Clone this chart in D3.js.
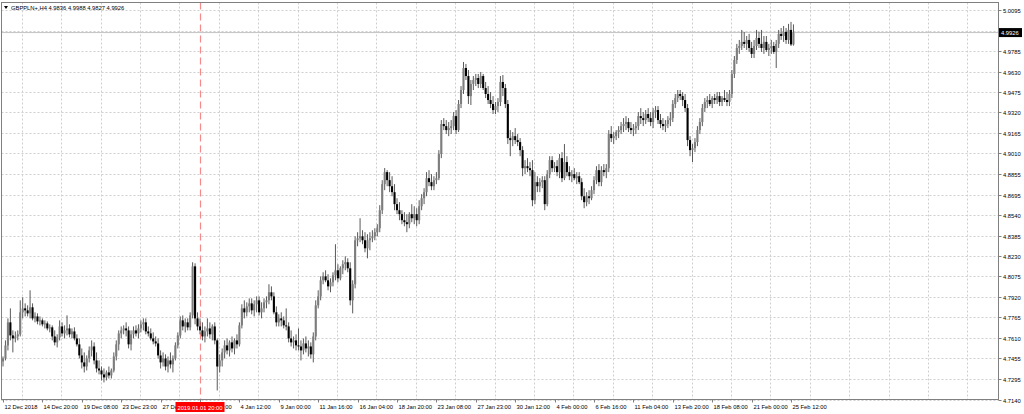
<!DOCTYPE html>
<html><head><meta charset="utf-8">
<script src="https://cdn.jsdelivr.net/npm/d3@7"></script>
<style>html,body{margin:0;padding:0;background:#fff;overflow:hidden}</style>
</head><body><svg id="c" width="1024" height="414"></svg>
<script>
const symbolTitle = "GBPPLN+,H4";
const lastOHLC = [4.9836, 4.9988, 4.9827, 4.9926];
const markerLabel = "2019.01.01 20:00";
const markerBar = 80;
const labelEvery = 16;
const gridEvery = 16;

const openP = [4.7430,4.7453,4.7552,4.7727,4.7628,4.7605,4.7620,4.7636,4.7803,4.7833,
4.7818,4.7795,4.7841,4.7757,4.7772,4.7734,4.7742,4.7712,4.7719,4.7681,
4.7689,4.7620,4.7575,4.7613,4.7696,4.7643,4.7666,4.7681,4.7636,4.7658,
4.7605,4.7560,4.7476,4.7423,4.7392,4.7453,4.7514,4.7544,4.7438,4.7377,
4.7362,4.7332,4.7309,4.7347,4.7324,4.7362,4.7468,4.7560,4.7643,4.7666,
4.7681,4.7666,4.7560,4.7636,4.7666,4.7643,4.7681,4.7712,4.7727,4.7658,
4.7643,4.7605,4.7582,4.7567,4.7476,4.7423,4.7453,4.7392,4.7438,4.7408,
4.7453,4.7552,4.7628,4.7742,4.7696,4.7727,4.7689,4.7780,4.8152,4.7757,
4.7696,4.7666,4.7620,4.7658,4.7681,4.7636,4.7696,4.7590,4.7392,4.7438,
4.7499,4.7552,4.7514,4.7575,4.7529,4.7590,4.7560,4.7704,4.7833,4.7803,
4.7848,4.7871,4.7818,4.7864,4.7894,4.7803,4.7833,4.7879,4.7894,4.7955,
4.7924,4.7803,4.7727,4.7757,4.7742,4.7704,4.7696,4.7605,4.7575,4.7590,
4.7552,4.7544,4.7514,4.7567,4.7529,4.7544,4.7484,4.7620,4.7856,4.7924,
4.8046,4.8076,4.8046,4.8000,4.8031,4.8084,4.8122,4.8061,4.8137,4.8168,
4.8183,4.8137,4.7894,4.8016,4.8350,4.8365,4.8380,4.8350,4.8289,4.8350,
4.8365,4.8380,4.8411,4.8441,4.8578,4.8776,4.8867,4.8806,4.8760,4.8715,
4.8624,4.8578,4.8548,4.8502,4.8487,4.8472,4.8548,4.8517,4.8548,4.8502,
4.8608,4.8669,4.8715,4.8821,4.8791,4.8760,4.8806,4.8821,4.9004,4.9232,
4.9216,4.9186,4.9201,4.9216,4.9292,4.9186,4.9384,4.9490,4.9657,4.9596,
4.9444,4.9536,4.9566,4.9581,4.9536,4.9596,4.9505,4.9460,4.9414,4.9384,
4.9338,4.9368,4.9399,4.9551,4.9505,4.9384,4.9125,4.9110,4.9140,4.9110,
4.9095,4.9034,4.8897,4.8912,4.8897,4.8882,4.8654,4.8791,4.8760,4.8791,
4.8806,4.8624,4.8852,4.8958,4.8897,4.8912,4.8867,4.8973,4.8821,4.8943,
4.8867,4.8836,4.8852,4.8821,4.8836,4.8791,4.8684,4.8639,4.8684,4.8669,
4.8730,4.8806,4.8882,4.8791,4.8882,4.8867,4.8897,4.9156,4.9125,4.9140,
4.9171,4.9186,4.9216,4.9232,4.9247,4.9201,4.9186,4.9201,4.9216,4.9292,
4.9277,4.9262,4.9308,4.9277,4.9247,4.9323,4.9338,4.9262,4.9232,4.9216,
4.9232,4.9262,4.9277,4.9384,4.9429,4.9460,4.9444,4.9414,4.9353,4.9110,
4.9034,4.9049,4.9095,4.9186,4.9247,4.9353,4.9399,4.9414,4.9384,4.9429,
4.9414,4.9444,4.9399,4.9429,4.9414,4.9399,4.9460,4.9612,4.9718,4.9809,
4.9824,4.9855,4.9840,4.9870,4.9809,4.9764,4.9824,4.9885,4.9840,4.9809,
4.9855,4.9794,4.9809,4.9824,4.9779,4.9840,4.9916,4.9900,4.9931,4.9870,
4.9946,4.9836];

const highP = [4.7468,4.7590,4.7757,4.7833,4.7666,4.7658,4.7666,4.7894,4.7917,4.7871,
4.7856,4.7970,4.7871,4.7803,4.7795,4.7772,4.7757,4.7742,4.7734,4.7712,
4.7704,4.7666,4.7636,4.7742,4.7727,4.7704,4.7780,4.7712,4.7681,4.7689,
4.7636,4.7605,4.7529,4.7499,4.7476,4.7544,4.7590,4.7575,4.7499,4.7438,
4.7392,4.7377,4.7362,4.7392,4.7377,4.7499,4.7590,4.7666,4.7696,4.7704,
4.7727,4.7696,4.7666,4.7696,4.7704,4.7712,4.7742,4.7757,4.7757,4.7696,
4.7681,4.7651,4.7620,4.7605,4.7514,4.7499,4.7484,4.7468,4.7499,4.7476,
4.7575,4.7651,4.7772,4.7780,4.7757,4.7757,4.7803,4.8183,4.8175,4.7803,
4.7757,4.7727,4.7696,4.7757,4.7727,4.7712,4.7727,4.7605,4.7484,4.7529,
4.7590,4.7605,4.7590,4.7620,4.7605,4.7636,4.7727,4.7864,4.7894,4.7879,
4.7909,4.7909,4.7894,4.7924,4.7924,4.7879,4.7909,4.7924,4.8016,4.8000,
4.7955,4.7848,4.7788,4.7803,4.7772,4.7833,4.7727,4.7666,4.7620,4.7636,
4.7681,4.7590,4.7605,4.7620,4.7590,4.7575,4.7651,4.7894,4.7970,4.8076,
4.8107,4.8122,4.8092,4.8061,4.8107,4.8320,4.8168,4.8152,4.8198,4.8228,
4.8213,4.8183,4.8046,4.8380,4.8411,4.8517,4.8426,4.8411,4.8396,4.8411,
4.8426,4.8441,4.8472,4.8616,4.8806,4.8898,4.8882,4.8867,4.8836,4.8776,
4.8669,4.8639,4.8578,4.8563,4.8548,4.8563,4.8624,4.8608,4.8593,4.8654,
4.8700,4.8745,4.8867,4.8882,4.8852,4.8836,4.8867,4.9034,4.9262,4.9277,
4.9262,4.9247,4.9262,4.9323,4.9338,4.9414,4.9520,4.9703,4.9688,4.9642,
4.9566,4.9596,4.9612,4.9612,4.9627,4.9612,4.9551,4.9520,4.9475,4.9444,
4.9399,4.9429,4.9596,4.9604,4.9536,4.9414,4.9186,4.9171,4.9201,4.9156,
4.9125,4.9064,4.8958,4.8973,4.8943,4.8958,4.8867,4.8836,4.8821,4.8836,
4.8836,4.8882,4.8988,4.8988,4.8943,4.8958,4.9004,4.9019,4.9080,4.8988,
4.8912,4.8882,4.8897,4.8867,4.8867,4.8821,4.8745,4.8715,4.8730,4.8760,
4.8836,4.8912,4.8928,4.8912,4.8928,4.8928,4.9186,4.9216,4.9171,4.9186,
4.9216,4.9247,4.9277,4.9292,4.9277,4.9247,4.9232,4.9247,4.9323,4.9353,
4.9323,4.9338,4.9353,4.9323,4.9353,4.9368,4.9368,4.9308,4.9277,4.9262,
4.9292,4.9323,4.9414,4.9460,4.9490,4.9490,4.9475,4.9460,4.9384,4.9140,
4.9080,4.9125,4.9216,4.9277,4.9384,4.9429,4.9444,4.9460,4.9444,4.9460,
4.9475,4.9475,4.9444,4.9490,4.9475,4.9490,4.9642,4.9748,4.9840,4.9870,
4.9946,4.9931,4.9900,4.9916,4.9855,4.9870,4.9946,4.9931,4.9946,4.9900,
4.9900,4.9840,4.9870,4.9855,4.9870,4.9946,4.9961,4.9976,4.9961,4.9992,
5.0007,4.9988];

const lowP = [4.7392,4.7438,4.7514,4.7590,4.7499,4.7575,4.7590,4.7620,4.7757,4.7772,
4.7772,4.7757,4.7742,4.7727,4.7712,4.7704,4.7696,4.7681,4.7666,4.7651,
4.7590,4.7552,4.7537,4.7590,4.7620,4.7605,4.7628,4.7613,4.7605,4.7590,
4.7544,4.7453,4.7377,4.7347,4.7362,4.7423,4.7468,4.7408,4.7347,4.7332,
4.7286,4.7271,4.7286,4.7301,4.7301,4.7347,4.7438,4.7514,4.7605,4.7636,
4.7620,4.7529,4.7514,4.7605,4.7620,4.7605,4.7651,4.7666,4.7636,4.7620,
4.7590,4.7560,4.7544,4.7453,4.7377,4.7392,4.7362,4.7347,4.7377,4.7347,
4.7438,4.7529,4.7605,4.7666,4.7651,4.7666,4.7666,4.7757,4.7712,4.7666,
4.7636,4.7590,4.7575,4.7620,4.7605,4.7590,4.7560,4.7210,4.7347,4.7392,
4.7453,4.7484,4.7468,4.7499,4.7484,4.7529,4.7544,4.7681,4.7757,4.7772,
4.7803,4.7788,4.7772,4.7803,4.7780,4.7757,4.7803,4.7833,4.7864,4.7894,
4.7788,4.7696,4.7696,4.7696,4.7681,4.7666,4.7575,4.7544,4.7529,4.7514,
4.7514,4.7438,4.7484,4.7499,4.7468,4.7453,4.7423,4.7590,4.7833,4.7894,
4.8016,4.8031,4.7970,4.7955,4.8000,4.8046,4.8031,4.8046,4.8092,4.8122,
4.8107,4.7856,4.7795,4.7985,4.8304,4.8335,4.8320,4.8259,4.8213,4.8274,
4.8335,4.8350,4.8380,4.8411,4.8548,4.8730,4.8760,4.8715,4.8684,4.8578,
4.8548,4.8502,4.8472,4.8456,4.8411,4.8441,4.8487,4.8472,4.8456,4.8472,
4.8578,4.8624,4.8684,4.8760,4.8730,4.8730,4.8776,4.8806,4.8973,4.9186,
4.9156,4.9140,4.9156,4.9186,4.9156,4.9171,4.9353,4.9460,4.9566,4.9384,
4.9376,4.9490,4.9520,4.9505,4.9505,4.9490,4.9429,4.9384,4.9353,4.9308,
4.9308,4.9323,4.9368,4.9444,4.9353,4.9080,4.8988,4.9064,4.9080,4.9064,
4.8988,4.8836,4.8852,4.8867,4.8836,4.8608,4.8624,4.8715,4.8715,4.8745,
4.8578,4.8608,4.8821,4.8867,4.8867,4.8836,4.8821,4.8791,4.8806,4.8836,
4.8806,4.8791,4.8806,4.8776,4.8776,4.8654,4.8593,4.8608,4.8624,4.8654,
4.8700,4.8776,4.8760,4.8760,4.8836,4.8821,4.8867,4.9095,4.9080,4.9110,
4.9125,4.9156,4.9171,4.9186,4.9171,4.9156,4.9140,4.9156,4.9186,4.9232,
4.9216,4.9232,4.9247,4.9216,4.9201,4.9277,4.9232,4.9201,4.9186,4.9171,
4.9201,4.9216,4.9247,4.9353,4.9399,4.9414,4.9368,4.9323,4.9064,4.8988,
4.8943,4.9019,4.9064,4.9156,4.9216,4.9323,4.9353,4.9368,4.9353,4.9384,
4.9384,4.9368,4.9368,4.9399,4.9368,4.9368,4.9429,4.9581,4.9688,4.9764,
4.9794,4.9809,4.9794,4.9779,4.9733,4.9733,4.9794,4.9809,4.9779,4.9764,
4.9779,4.9748,4.9764,4.9764,4.9657,4.9809,4.9870,4.9855,4.9840,4.9840,
4.9824,4.9827];

const closeP = [4.7453,4.7552,4.7727,4.7628,4.7605,4.7620,4.7636,4.7803,4.7833,4.7818,
4.7795,4.7841,4.7757,4.7772,4.7734,4.7742,4.7712,4.7719,4.7681,4.7689,
4.7620,4.7575,4.7613,4.7696,4.7643,4.7666,4.7681,4.7636,4.7658,4.7605,
4.7560,4.7476,4.7423,4.7392,4.7453,4.7514,4.7544,4.7438,4.7377,4.7362,
4.7332,4.7309,4.7347,4.7324,4.7362,4.7468,4.7560,4.7643,4.7666,4.7681,
4.7666,4.7560,4.7636,4.7666,4.7643,4.7681,4.7712,4.7727,4.7658,4.7643,
4.7605,4.7582,4.7567,4.7476,4.7423,4.7453,4.7392,4.7438,4.7408,4.7453,
4.7552,4.7628,4.7742,4.7696,4.7727,4.7689,4.7780,4.8152,4.7757,4.7696,
4.7666,4.7620,4.7658,4.7681,4.7636,4.7696,4.7590,4.7392,4.7438,4.7499,
4.7552,4.7514,4.7575,4.7529,4.7590,4.7560,4.7704,4.7833,4.7803,4.7848,
4.7871,4.7818,4.7864,4.7894,4.7803,4.7833,4.7879,4.7894,4.7955,4.7924,
4.7803,4.7727,4.7757,4.7742,4.7704,4.7696,4.7605,4.7575,4.7590,4.7552,
4.7544,4.7514,4.7567,4.7529,4.7544,4.7484,4.7620,4.7856,4.7924,4.8046,
4.8076,4.8046,4.8000,4.8031,4.8084,4.8122,4.8061,4.8137,4.8168,4.8183,
4.8137,4.7894,4.8016,4.8350,4.8365,4.8380,4.8350,4.8289,4.8350,4.8365,
4.8380,4.8411,4.8441,4.8578,4.8776,4.8867,4.8806,4.8760,4.8715,4.8624,
4.8578,4.8548,4.8502,4.8487,4.8472,4.8548,4.8517,4.8548,4.8502,4.8608,
4.8669,4.8715,4.8821,4.8791,4.8760,4.8806,4.8821,4.9004,4.9232,4.9216,
4.9186,4.9201,4.9216,4.9292,4.9186,4.9384,4.9490,4.9657,4.9596,4.9444,
4.9536,4.9566,4.9581,4.9536,4.9596,4.9505,4.9460,4.9414,4.9384,4.9338,
4.9368,4.9399,4.9551,4.9505,4.9384,4.9125,4.9110,4.9140,4.9110,4.9095,
4.9034,4.8897,4.8912,4.8897,4.8882,4.8654,4.8791,4.8760,4.8791,4.8806,
4.8624,4.8852,4.8958,4.8897,4.8912,4.8867,4.8973,4.8821,4.8943,4.8867,
4.8836,4.8852,4.8821,4.8836,4.8791,4.8684,4.8639,4.8684,4.8669,4.8730,
4.8806,4.8882,4.8791,4.8882,4.8867,4.8897,4.9156,4.9125,4.9140,4.9171,
4.9186,4.9216,4.9232,4.9247,4.9201,4.9186,4.9201,4.9216,4.9292,4.9277,
4.9262,4.9308,4.9277,4.9247,4.9323,4.9338,4.9262,4.9232,4.9216,4.9232,
4.9262,4.9277,4.9384,4.9429,4.9460,4.9444,4.9414,4.9353,4.9110,4.9034,
4.9049,4.9095,4.9186,4.9247,4.9353,4.9399,4.9414,4.9384,4.9429,4.9414,
4.9444,4.9399,4.9429,4.9414,4.9399,4.9460,4.9612,4.9718,4.9809,4.9824,
4.9855,4.9840,4.9870,4.9809,4.9764,4.9824,4.9885,4.9840,4.9809,4.9855,
4.9794,4.9809,4.9824,4.9779,4.9840,4.9916,4.9900,4.9931,4.9870,4.9946,
4.9836,4.9926];

const timeLabels = ["12 Dec 2018","14 Dec 20:00","19 Dec 08:00","23 Dec 23:00","27 Dec 12:00",
"1 Jan 20:00","4 Jan 12:00","9 Jan 00:00","11 Jan 16:00","16 Jan 04:00","18 Jan 20:00",
"23 Jan 08:00","27 Jan 23:00","30 Jan 12:00","4 Feb 00:00","6 Feb 16:00","11 Feb 04:00",
"13 Feb 20:00","18 Feb 08:00","21 Feb 00:00","25 Feb 12:00"];

const priceTicks = [5.0095,4.9940,4.9785,4.9630,4.9475,4.9320,4.9165,4.9010,4.8855,4.8695,
4.8540,4.8385,4.8230,4.8075,4.7920,4.7765,4.7610,4.7455,4.7295,4.7140];

const FONT = "Liberation Sans, Arial, sans-serif";
const FS = 5.8;
const L = 1.5, R = 998.5, T = 2.5, B = 399.5;
const barStep = 2.4625;
const nBars = closeP.length;

const svg = d3.select("#c");
const x = d3.scaleLinear().domain([0, 1]).range([3, 3 + barStep]);
const y = d3.scaleLinear().domain([4.7140, 5.0095]).range([399.7, 10.3]);

// grid
const g = svg.append("g");
priceTicks.forEach(p => {
  const yy = Math.round(y(p)) + 0.5;
  g.append("line").attr("x1", L).attr("x2", R).attr("y1", yy).attr("y2", yy)
    .attr("stroke", "#cfcfcf").attr("stroke-dasharray", "2,2").attr("stroke-width", 1);
});
for (let b = gridEvery / 2; x(b) < R; b += gridEvery) {
  const xx = Math.round(x(b) - 1) + 0.5;
  g.append("line").attr("x1", xx).attr("x2", xx).attr("y1", T).attr("y2", B)
    .attr("stroke", "#cfcfcf").attr("stroke-dasharray", "2,2").attr("stroke-width", 1);
}

// red vertical line
svg.append("line").attr("x1", Math.round(x(markerBar)) + 0.5).attr("x2", Math.round(x(markerBar)) + 0.5)
  .attr("y1", T).attr("y2", B).attr("stroke", "#f58a8a").attr("stroke-width", 1.2).attr("stroke-dasharray", "7,4");

// bid line
svg.append("line").attr("x1", L).attr("x2", R).attr("y1", y(lastOHLC[3])).attr("y2", y(lastOHLC[3]))
  .attr("stroke", "#c4c4c4").attr("stroke-width", 1);

// candles
const idx = d3.range(nBars);
const cg = svg.append("g");
cg.selectAll("line.w").data(idx).join("line").attr("class", "w")
  .attr("x1", i => x(i)).attr("x2", i => x(i))
  .attr("y1", i => y(Math.max(highP[i], openP[i], closeP[i])))
  .attr("y2", i => y(Math.min(lowP[i], openP[i], closeP[i])))
  .attr("stroke", "#5a5a5a").attr("stroke-width", 1);
cg.selectAll("rect.b").data(idx).join("rect").attr("class", "b")
  .attr("x", i => x(i) - 1.05).attr("width", 2.1)
  .attr("y", i => y(Math.max(openP[i], closeP[i])))
  .attr("height", i => Math.max(0.8, Math.abs(y(openP[i]) - y(closeP[i]))))
  .attr("fill", i => closeP[i] >= openP[i] ? "#7d7d7d" : "#000");

// frame
svg.append("rect").attr("x", L).attr("y", T).attr("width", R - L).attr("height", B - T)
  .attr("fill", "none").attr("stroke", "#808080").attr("stroke-width", 1);

// y axis labels
priceTicks.forEach(p => {
  const yy = Math.round(y(p)) + 0.5;
  svg.append("line").attr("x1", R).attr("x2", R + 3).attr("y1", yy).attr("y2", yy).attr("stroke", "#808080");
  svg.append("text").attr("x", 1003).attr("y", yy + 2).attr("font-family", FONT).attr("font-size", FS)
    .attr("fill", "#000").text(p.toFixed(4));
});

// x axis labels
timeLabels.forEach((t, k) => {
  const xx = Math.round(x(k * labelEvery)) + 0.5;
  svg.append("line").attr("x1", xx).attr("x2", xx).attr("y1", B).attr("y2", B + 3).attr("stroke", "#808080");
  svg.append("text").attr("x", xx + 1).attr("y", 409).attr("font-family", FONT).attr("font-size", FS)
    .attr("fill", "#000").text(t);
});

// red time marker label
const mx = x(markerBar);
svg.append("rect").attr("x", mx - 24.5).attr("y", 402).attr("width", 49).attr("height", 10).attr("fill", "#ff0000");
svg.append("text").attr("x", mx).attr("y", 409.5).attr("text-anchor", "middle").attr("font-family", FONT)
  .attr("font-size", FS).attr("fill", "#fff").text(markerLabel);

// current price marker
const py = y(lastOHLC[3]);
svg.append("rect").attr("x", 999).attr("y", py - 4.5).attr("width", 23).attr("height", 9).attr("fill", "#000");
svg.append("text").attr("x", 1001).attr("y", py + 2).attr("font-family", FONT).attr("font-size", FS)
  .attr("fill", "#fff").text(lastOHLC[3].toFixed(4));

// header
svg.append("path").attr("d", "M4,6 L8,6 L6,9 Z").attr("fill", "#000");
svg.append("text").attr("x", 11).attr("y", 9.5).attr("font-family", FONT).attr("font-size", FS).attr("fill", "#000")
  .text(symbolTitle + "  " + lastOHLC.map(v => v.toFixed(4)).join(" "));
</script></body></html>
